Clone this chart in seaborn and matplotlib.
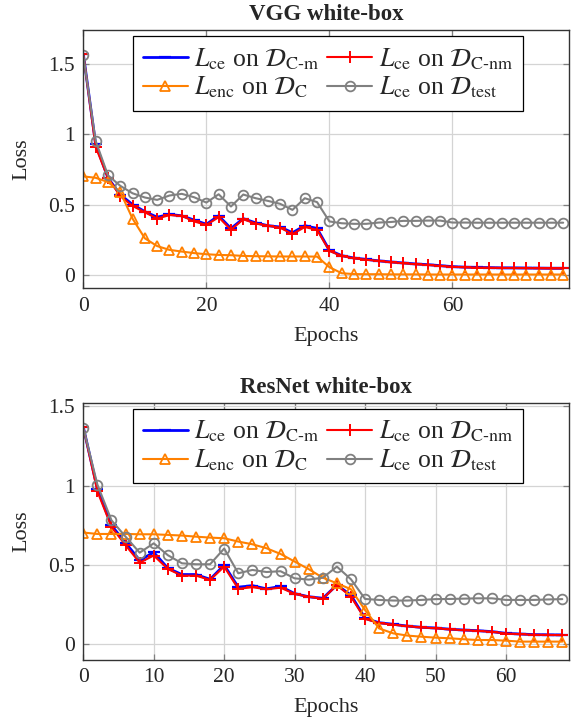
import numpy as np
import pandas as pd
import matplotlib
matplotlib.use("Agg")
import matplotlib.pyplot as plt
import seaborn as sns
from matplotlib.ticker import FuncFormatter

# VGG white-box, every 2nd epoch
vgg_epochs = list(range(0, 80, 2))
vgg_ce_cm = [1.57, 0.93, 0.69, 0.57, 0.50, 0.45, 0.41, 0.43, 0.42, 0.39,
             0.36, 0.42, 0.33, 0.40, 0.37, 0.35, 0.34, 0.30, 0.35, 0.33,
             0.175, 0.137, 0.12, 0.11, 0.10, 0.092, 0.085, 0.078, 0.073, 0.066,
             0.059, 0.055, 0.053, 0.052, 0.05, 0.05, 0.049, 0.048, 0.047, 0.047]
vgg_ce_cnm = [1.57, 0.91, 0.69, 0.56, 0.49, 0.445, 0.40, 0.425, 0.42, 0.38,
              0.355, 0.41, 0.32, 0.395, 0.365, 0.35, 0.335, 0.29, 0.34, 0.32,
              0.17, 0.135, 0.118, 0.108, 0.10, 0.09, 0.083, 0.076, 0.071, 0.064,
              0.058, 0.054, 0.052, 0.051, 0.05, 0.049, 0.048, 0.047, 0.046, 0.046]
vgg_enc = [0.70, 0.69, 0.66, 0.59, 0.40, 0.26, 0.205, 0.178, 0.166, 0.155,
           0.147, 0.142, 0.14, 0.135, 0.133, 0.132, 0.131, 0.131, 0.131, 0.13,
           0.055, 0.012, 0.006, 0.005, 0.005, 0.004, 0.004, 0.004, 0.003, 0.003,
           0.003, 0.003, 0.003, 0.003, 0.003, 0.003, 0.003, 0.003, 0.003, 0.003]
vgg_test = [1.56, 0.953, 0.708, 0.633, 0.58, 0.55, 0.533, 0.564, 0.576, 0.552,
            0.514, 0.573, 0.486, 0.571, 0.545, 0.526, 0.505, 0.462, 0.545, 0.517,
            0.38, 0.367, 0.363, 0.363, 0.372, 0.376, 0.384, 0.384, 0.386, 0.386,
            0.372, 0.372, 0.371, 0.371, 0.371, 0.371, 0.371, 0.371, 0.371, 0.371]

# ResNet white-box, every 2nd epoch
res_epochs = list(range(0, 70, 2))
res_ce_cm = [1.37, 0.98, 0.75, 0.64, 0.53, 0.58, 0.48, 0.44, 0.44, 0.41,
             0.50, 0.36, 0.37, 0.35, 0.365, 0.32, 0.30, 0.29, 0.374, 0.31,
             0.164, 0.136, 0.126, 0.115, 0.107, 0.103, 0.095, 0.09, 0.086, 0.08,
             0.069, 0.065, 0.061, 0.06, 0.059]
res_ce_cnm = [1.37, 0.965, 0.74, 0.625, 0.515, 0.56, 0.475, 0.433, 0.433, 0.406,
              0.49, 0.35, 0.36, 0.347, 0.357, 0.318, 0.30, 0.286, 0.374, 0.30,
              0.16, 0.134, 0.124, 0.114, 0.106, 0.101, 0.094, 0.089, 0.085, 0.079,
              0.068, 0.064, 0.06, 0.059, 0.058]
res_enc = [0.705, 0.696, 0.696, 0.696, 0.694, 0.694, 0.69, 0.686, 0.679, 0.673,
           0.669, 0.648, 0.631, 0.606, 0.57, 0.522, 0.474, 0.42, 0.385, 0.347,
           0.216, 0.10, 0.069, 0.055, 0.048, 0.042, 0.038, 0.032, 0.027, 0.027,
           0.023, 0.017, 0.017, 0.017, 0.017]
res_test = [1.367, 1.007, 0.782, 0.679, 0.578, 0.637, 0.562, 0.511, 0.505, 0.505,
            0.604, 0.448, 0.469, 0.456, 0.461, 0.416, 0.408, 0.42, 0.49, 0.41,
            0.286, 0.28, 0.276, 0.276, 0.28, 0.285, 0.286, 0.288, 0.29, 0.29,
            0.28, 0.28, 0.28, 0.283, 0.285]

titles = ["VGG white-box", "ResNet white-box"]
HY = "\u2010"  # hyphen inside the subscript
labels = ["$L_{\\mathrm{ce}}$ on $\\mathcal{D}_{\\mathrm{C" + HY + "m}}$",
          "$L_{\\mathrm{ce}}$ on $\\mathcal{D}_{\\mathrm{C" + HY + "nm}}$",
          "$L_{\\mathrm{enc}}$ on $\\mathcal{D}_{\\mathrm{C}}$",
          "$L_{\\mathrm{ce}}$ on $\\mathcal{D}_{\\mathrm{test}}$"]

sns.set_style("ticks")
plt.rcParams["font.family"] = ["Liberation Serif", "DejaVu Serif"]
plt.rcParams["mathtext.fontset"] = "stix"
plt.rcParams["font.size"] = 15.5

styles = [
    dict(color="#0000ff", marker="_", markersize=9, mew=1.6, mec="#0000ff", lw=2.0),
    dict(color="#ff0000", marker="+", markersize=9, mew=1.4, mec="#ff0000", lw=1.5),
    dict(color="#ff8000", marker="^", markersize=6.5, mew=1.3, mec="#ff8000", mfc="none", lw=1.5),
    dict(color="#808080", marker="o", markersize=7, mew=1.3, mec="#808080", mfc="none", lw=1.5),
]


def fmt(v, pos):
    return f"{v:g}"


fig = plt.figure(figsize=(5.73, 7.24), dpi=100)
ax_top = fig.add_axes([0.1454, 0.6018, 0.8482, 0.3568])
ax_bot = fig.add_axes([0.1454, 0.0884, 0.8482, 0.3554])

panels = [
    (ax_top, vgg_epochs, [vgg_ce_cm, vgg_ce_cnm, vgg_enc, vgg_test], (0, 79), (-0.095, 1.74), np.arange(0, 80, 20)),
    (ax_bot, res_epochs, [res_ce_cm, res_ce_cnm, res_enc, res_test], (0, 69), (-0.099, 1.524), np.arange(0, 70, 10)),
]

for (ax, ep, series, xl, yl, xt), title in zip(panels, titles):
    for vals, lab, st in zip(series, labels, styles):
        sns.lineplot(x=ep, y=vals, ax=ax, label=lab, **st)
    ax.set_xlim(*xl)
    ax.set_ylim(*yl)
    ax.set_xticks(xt)
    ax.set_yticks([0, 0.5, 1, 1.5])
    ax.xaxis.set_major_formatter(FuncFormatter(fmt))
    ax.yaxis.set_major_formatter(FuncFormatter(fmt))
    ax.grid(True, color="#d4d4d4", lw=0.9)
    ax.set_axisbelow(True)
    ax.tick_params(direction="in", length=4, width=0.9, color="#808080",
                   top=True, right=True, labelsize=15.5, pad=6)
    for sp in ax.spines.values():
        sp.set_color("#333333")
        sp.set_linewidth(1.0)
    ax.set_title(title, fontweight="bold", fontsize=16.5, pad=7)
    ax.set_xlabel("Epochs", fontsize=16, labelpad=8)
    ax.set_ylabel("Loss", fontsize=16, labelpad=12)

    h, l = ax.get_legend_handles_labels()
    order = [0, 2, 1, 3]
    leg = ax.legend([h[i] for i in order], [l[i] for i in order], ncol=2,
                    loc="upper right", bbox_to_anchor=(0.9053, 0.977),
                    borderaxespad=0, fancybox=False, framealpha=1,
                    edgecolor="black", handlelength=1.75, handletextpad=0.25,
                    columnspacing=0.3, labelspacing=0.12, borderpad=0.4,
                    fontsize=18.5)
    leg.get_frame().set_linewidth(0.9)

fig.savefig("out.png", dpi=100)
